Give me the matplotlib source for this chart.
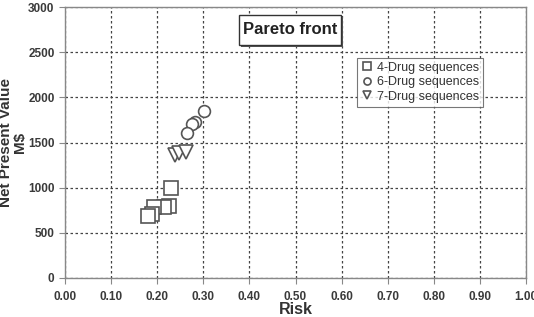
import matplotlib
matplotlib.use("Agg")
import matplotlib.pyplot as plt
from matplotlib.patches import Rectangle

# Data
risk4 = [0.229, 0.226, 0.215, 0.192, 0.189, 0.179]
npv4 = [993, 794, 783, 790, 708, 690]
risk6 = [0.301, 0.282, 0.276, 0.265]
npv6 = [1852, 1723, 1701, 1602]
risk7 = [0.238, 0.247, 0.262]
npv7 = [1362, 1380, 1398]
xticks = [0.0, 0.1, 0.2, 0.3, 0.4, 0.5, 0.6, 0.7, 0.8, 0.9, 1.0]
yticks = [0, 500, 1000, 1500, 2000, 2500, 3000]

plt.rcParams['font.family'] = ['Liberation Sans', 'DejaVu Sans']
fig = plt.figure(figsize=(5.34, 3.17), dpi=100)
ax = fig.add_axes([65/534, 1-278/317, (526-65)/534, (278-7)/317])

mc = '#555555'
ax.plot(risk4, npv4, linestyle='none', marker='s', markersize=10, markerfacecolor='white',
        markeredgecolor=mc, markeredgewidth=1.2, label='4-Drug sequences')
ax.plot(risk6, npv6, linestyle='none', marker='o', markersize=8.5, markerfacecolor='white',
        markeredgecolor=mc, markeredgewidth=1.2, label='6-Drug sequences')
ax.plot(risk7, npv7, linestyle='none', marker='v', markersize=9.5, markerfacecolor='white',
        markeredgecolor=mc, markeredgewidth=1.2, label='7-Drug sequences')

ax.set_xlim(0, 1)
ax.set_ylim(0, 3000)
ax.set_xticks(xticks)
ax.set_xticklabels([f"{t:.2f}" for t in xticks])
ax.set_yticks(yticks)
ax.set_yticklabels([str(t) for t in yticks])
ax.grid(True, linestyle=(0, (2, 2)), color='#444444', linewidth=0.9)
ax.set_axisbelow(True)
for s in ax.spines.values():
    s.set_color('#888888')
    s.set_linewidth(1.0)
ax.tick_params(axis='both', colors='#888888', labelcolor='#3a3a3a', labelsize=8.5,
               direction='out', length=4)
ax.tick_params(axis='x', pad=5)
for lab in ax.get_xticklabels() + ax.get_yticklabels():
    lab.set_fontweight('bold')

ax.set_xlabel('Risk', fontsize=11.5, fontweight='bold', color='#333333', labelpad=0)
fig.text(13/534, 1-142.5/317, 'Net Present Value\nM$', rotation=90, fontsize=11,
         fontweight='bold', color='#333333', ha='center', va='center', linespacing=1.05,
         multialignment='center')

# Title box with a slight shadow
bx0, bx1 = (239-65)/461, (341-65)/461
by0, by1 = 1-(45-7)/271, 1-(15-7)/271
dx, dy = 2/461, 2/271
ax.add_patch(Rectangle((bx0+dx, by0-dy), bx1-bx0, by1-by0, transform=ax.transAxes,
                       facecolor='#555555', edgecolor='none', zorder=4))
ax.add_patch(Rectangle((bx0, by0), bx1-bx0, by1-by0, transform=ax.transAxes,
                       facecolor='white', edgecolor='#333333', linewidth=1.0, zorder=5))
ax.text((290-65)/461, (by0+by1)/2, 'Pareto front', transform=ax.transAxes, fontsize=12,
        fontweight='bold', color='#222222', ha='center', va='center', zorder=6)

leg = ax.legend(loc='upper left', bbox_to_anchor=((357-65)/461, 1-(58-7)/271),
                fontsize=9, frameon=True, fancybox=False, borderpad=0.3,
                handletextpad=0.3, handlelength=1.0, labelspacing=0.2, borderaxespad=0,
                markerscale=0.6)
leg.get_frame().set_edgecolor('#555555')
leg.get_frame().set_linewidth(0.8)
for t in leg.get_texts():
    t.set_color('#333333')

fig.savefig('out.png', dpi=100)
